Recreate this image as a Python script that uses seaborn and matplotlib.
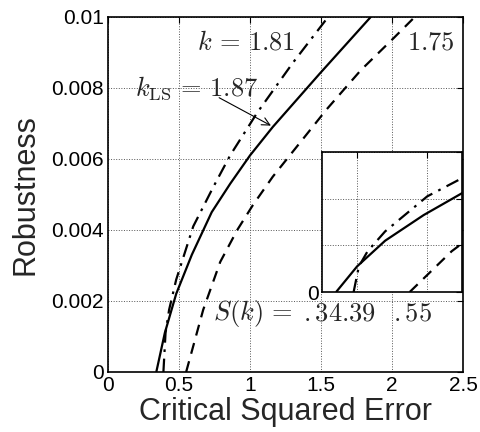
import matplotlib
matplotlib.use("Agg")
import matplotlib.pyplot as plt
import seaborn as sns
import pandas as pd

# curves (critical squared error vs robustness)
solid_x = [0.34, 0.40, 0.48, 0.59, 0.73, 0.86, 1.00, 1.16, 1.49, 1.85]
solid_y = [0.0, 0.0011, 0.0022, 0.0033, 0.0045, 0.0053, 0.0061, 0.0069, 0.0084, 0.0100]

dashdot_x = [0.39, 0.405, 0.43, 0.48, 0.60, 0.74, 0.86, 1.05, 1.30, 1.55]
dashdot_y = [0.0, 0.0011, 0.00175, 0.0026, 0.0041, 0.0052, 0.0061, 0.0073, 0.0087, 0.0100]

dashed_x = [0.55, 0.67, 0.79, 0.91, 1.02, 1.16, 1.30, 1.54, 1.78, 2.01, 2.16]
dashed_y = [0.0, 0.00175, 0.0031, 0.0040, 0.0047, 0.0055, 0.0062, 0.0074, 0.0085, 0.0094, 0.0100]

main_xticks = [0, 0.5, 1, 1.5, 2, 2.5]
main_xlabels = ["0", "0.5", "1", "1.5", "2", "2.5"]
main_yticks = [0, 0.002, 0.004, 0.006, 0.008, 0.01]
main_ylabels = ["0", "0.002", "0.004", "0.006", "0.008", "0.01"]

sns.set_theme(style="white")
plt.rcParams['font.family'] = ['Liberation Sans', 'DejaVu Sans']
plt.rcParams['mathtext.fontset'] = 'cm'

curves = [
    (solid_x, solid_y, (0, ())),
    (dashdot_x, dashdot_y, (0, (6, 3, 1.2, 3))),
    (dashed_x, dashed_y, (0, (5, 3.5))),
]


def draw_curves(ax):
    for xs, ys, ls in curves:
        df = pd.DataFrame({'x': xs, 'y': ys})
        sns.lineplot(data=df, x='x', y='y', ax=ax, color='black', lw=1.6,
                     linestyle=ls, sort=False, estimator=None)


def style_axes(ax):
    ax.grid(True, linestyle=':', color='#555555', lw=0.7)
    ax.tick_params(direction='in', length=4, width=0.8, top=True, right=True,
                   colors='black', labelsize=15, pad=3)
    for s in ax.spines.values():
        s.set_color('black')
        s.set_linewidth(1.2)
    ax.set_xlabel('')
    ax.set_ylabel('')


fig = plt.figure(figsize=(4.8, 4.32), dpi=100)
ax = fig.add_axes([0.225, 0.139, 0.740, 0.822])
draw_curves(ax)
style_axes(ax)
ax.set_xlim(0, 2.5)
ax.set_ylim(0, 0.01)
ax.set_xticks(main_xticks, main_xlabels)
ax.set_yticks(main_yticks, main_ylabels)
ax.set_xlabel('Critical Squared Error', fontsize=22, labelpad=1)
ax.set_ylabel('Robustness', fontsize=22, labelpad=8)

ax.text(0.97, 0.00927, r'$k\,=\,1.81$', fontsize=19, ha='center', va='center')
ax.text(2.27, 0.00927, r'$1.75$', fontsize=19, ha='center', va='center')
ax.text(0.625, 0.0080, r'$k_{\rm LS}\,=\,1.87$', fontsize=19, ha='center', va='center')
ax.annotate('', xy=(1.164, 0.0069), xytext=(0.765, 0.00776),
            arrowprops=dict(arrowstyle='->', color='black', lw=0.8,
                            mutation_scale=14))
ax.text(0.739, 0.00165, r'$S(k)\,=$', fontsize=19, ha='left', va='center')
ax.text(1.37, 0.00165, r'$.34.39$', fontsize=19, ha='left', va='center')
ax.text(2.007, 0.00165, r'$.55$', fontsize=19, ha='left', va='center')

# zoomed inset near the x intercepts
ins = fig.add_axes([0.671, 0.324, 0.292, 0.324])
ins.set_facecolor('white')
draw_curves(ins)
style_axes(ins)
ins.set_xlim(0.3, 0.7)
ins.set_ylim(0, 0.006)
ins.set_xticks([0.4, 0.6], ['', ''])
ins.set_yticks([0, 0.002, 0.004, 0.006], ['0', '', '', ''])
ins.tick_params(labelsize=15, pad=2)

fig.savefig('out.png', dpi=100)
plt.close(fig)
